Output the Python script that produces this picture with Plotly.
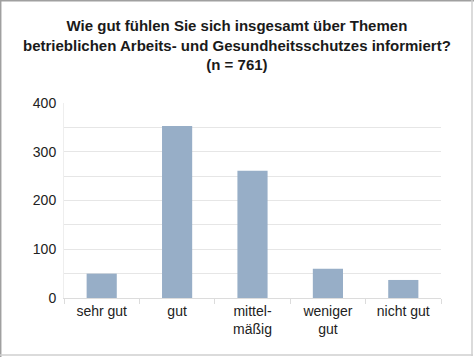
import plotly.graph_objects as go

categories = ["sehr gut", "gut", "mittel-<br>mäßig", "weniger<br>gut", "nicht gut"]
values = [50, 353, 261, 60, 37]
y_ticks = [0, 100, 200, 300, 400]

title_text = ("<b>Wie gut fühlen Sie sich insgesamt über Themen<br>"
              "betrieblichen Arbeits- und Gesundheitsschutzes informiert?<br>"
              "(n = 761)</b>")

W, H = 474, 357
ml, mr, mt, mb = 64, 33, 103, 59
pw, ph = W - ml - mr, H - mt - mb

def px_x(x):
    return (x - ml) / pw

def px_y(y):
    return (H - mb - y) / ph

def frame_line(x0, y0, x1, y1, color):
    return dict(type="line", xref="paper", yref="paper",
                x0=px_x(x0), x1=px_x(x1), y0=px_y(y0), y1=px_y(y1),
                line=dict(color=color, width=1.5), layer="below")

fig = go.Figure(go.Bar(
    x=categories, y=values,
    marker=dict(color="#97aec7", line=dict(width=0)),
    width=0.4,
))

fig.update_layout(
    width=W, height=H,
    margin=dict(l=ml, r=mr, t=mt, b=mb, autoexpand=False),
    paper_bgcolor="white", plot_bgcolor="white",
    showlegend=False,
    font=dict(family="Liberation Sans, Arial, sans-serif", size=14, color="#222222"),
    bargap=0.6,
    annotations=[dict(
        text=title_text, showarrow=False,
        xref="paper", yref="paper",
        x=px_x(237), y=px_y(15), xanchor="center", yanchor="top",
        align="center",
        font=dict(family="Liberation Sans Narrow, Arial Narrow, Liberation Sans, sans-serif",
                  size=15, color="#1a1a1a"),
    )],
    shapes=[
        frame_line(0.7, 0, 0.7, 357, "#a0a0a0"),
        frame_line(0, 0.7, 474, 0.7, "#a0a0a0"),
        frame_line(472, 0, 472, 356, "#cfcfcf"),
        frame_line(0, 355, 473, 355, "#cfcfcf"),
    ],
)

fig.update_xaxes(
    type="category", automargin=False,
    showgrid=False,
    showline=True, linecolor="#dcdcdc", linewidth=1,
    ticks="outside", tickson="boundaries", ticklen=5, tickcolor="#dcdcdc",
    tickfont=dict(size=14, color="#222222"),
)

fig.update_yaxes(
    range=[0, 400], automargin=False,
    tickvals=y_ticks,
    showgrid=True, gridcolor="#e6e6e6", gridwidth=1,
    minor=dict(dtick=50, showgrid=True, gridcolor="#e6e6e6", gridwidth=1),
    showline=True, linecolor="#eeeeee", linewidth=1,
    zeroline=False,
    ticks="", ticklen=0, ticklabelstandoff=4,
    tickfont=dict(size=14, color="#222222"),
)

fig.write_html("out.html", config={"displayModeBar": False},
               post_script="document.body.style.margin='0';")
